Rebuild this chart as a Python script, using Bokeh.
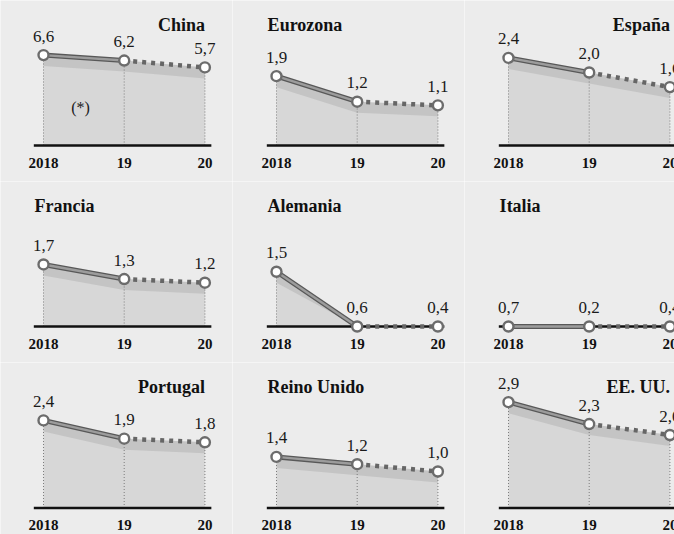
import numpy as np
from bokeh.plotting import figure
from bokeh.layouts import gridplot
from bokeh.core.properties import value
from bokeh.embed import file_html
from bokeh.resources import INLINE

# ---------------- data ----------------
years = ["2018", "19", "20"]
china = [6.6, 6.2, 5.7]
eurozona = [1.9, 1.2, 1.1]
espana = [2.4, 2.0, 1.6]
francia = [1.7, 1.3, 1.2]
alemania = [1.5, 0.6, 0.4]
italia = [0.7, 0.2, 0.4]
portugal = [2.4, 1.9, 1.8]
reino_unido = [1.4, 1.2, 1.0]
eeuu = [2.9, 2.3, 2.0]
# heights as drawn in the printed chart (Germany 2019-20 and all of Italy sit on the baseline)
alemania_drawn = [1.5, 0.0, 0.0]
italia_drawn = [0.0, 0.0, 0.0]

panels = [
    ("China", china, china, "right", True),
    ("Eurozona", eurozona, eurozona, "left", False),
    ("España", espana, espana, "right", False),
    ("Francia", francia, francia, "left", False),
    ("Alemania", alemania, alemania_drawn, "left", False),
    ("Italia", italia, italia_drawn, "left", False),
    ("Portugal", portugal, portugal, "right", False),
    ("Reino Unido", reino_unido, reino_unido, "left", False),
    ("EE. UU.", eeuu, eeuu, "right", False),
]

# ---------------- layout / style ----------------
PPX = 80.7                      # pixels per year step
COL_LEFT = [0, 232, 464]
COL_W = [232, 232, 210]
FIRST_X = [43, 276, 508]
ROW_TOP = [0, 181, 362]
ROW_H = [181, 181, 172]
BASE_Y = [145, 326, 507.5]
PPU = 36.5                      # pixels per percentage point
PPU_CHINA = 13.7
BG = "#ececec"
SERIF = value("Liberation Serif")


def fmt(v):
    return f"{v:.1f}".replace(".", ",")


figs = []
for i, (name, labels, drawn, align, is_china) in enumerate(panels):
    r, c = divmod(i, 3)
    ppu = PPU_CHINA if is_china else PPU
    W, H = COL_W[c], ROW_H[r]
    x0 = -(FIRST_X[c] - COL_LEFT[c]) / PPX
    x1 = x0 + W / PPX
    ytop = (BASE_Y[r] - ROW_TOP[r]) / ppu
    ybot = ytop - H / ppu
    p = figure(width=W, height=H, x_range=(x0, x1), y_range=(ybot, ytop),
               output_backend="svg", toolbar_location=None,
               x_axis_location=None, y_axis_location=None,
               min_border=0, min_border_left=0, min_border_right=0,
               min_border_top=0, min_border_bottom=0,
               background_fill_color=BG, border_fill_color=BG,
               outline_line_color=None)
    p.grid.visible = False

    x = np.array([0, 1, 2], dtype=float)
    y = np.array(drawn, dtype=float)
    band = 11 / ppu

    # shaded area under the line
    p.varea(x=x, y1=np.zeros(3), y2=y, fill_color="#d3d3d3", fill_alpha=0.85)
    p.varea(x=x, y1=np.maximum(y - band, 0), y2=y, fill_color="#b4b4b4", fill_alpha=0.55)
    # vertical dotted guides
    p.segment(x0=x, y0=np.zeros(3), x1=x, y1=y, line_color="#7c7c7c",
              line_width=1, line_dash="1 2")
    # baseline
    p.segment(x0=[-0.12], y0=[0], x1=[2.08], y1=[0], line_color="#111111", line_width=2.6)
    # solid 2018-19 segment
    p.line(x[:2], y[:2], line_color="#585858", line_width=5)
    p.line(x[:2], y[:2], line_color="#9c9c9c", line_width=2.4)
    # dotted forecast segment
    p.line(x[1:], y[1:], line_color="#666666", line_width=4.5, line_dash="4 5")
    # markers
    p.scatter(x, y, size=10, fill_color="white", line_color="#6c6c6c", line_width=2.4)

    # value labels
    p.text(x=x, y=y, text=[fmt(v) for v in labels], text_align="center",
           text_baseline="middle", y_offset=-19, text_font=SERIF,
           text_font_size="17px", text_color="#1a1a1a")
    # year labels
    p.text(x=x, y=np.zeros(3), text=years, text_align="center",
           text_baseline="middle", y_offset=17, text_font=SERIF,
           text_font_size="15px", text_font_style="bold", text_color="#111111")
    # title
    tx = 2.0 if align == "right" else -0.11
    p.text(x=[tx], y=[121 / ppu], text=[name], text_align=align,
           text_baseline="middle", text_font=SERIF, text_font_size="18px",
           text_font_style="bold", text_color="#111111")
    if is_china:
        p.text(x=[0.46], y=[38 / ppu], text=["(*)"], text_align="center",
               text_baseline="middle", text_font=SERIF, text_font_size="16px",
               text_color="#1a1a1a")
    figs.append(p)

grid = gridplot([figs[0:3], figs[3:6], figs[6:9]], toolbar_location=None)

open("out.html", "w").write(file_html(grid, INLINE))
